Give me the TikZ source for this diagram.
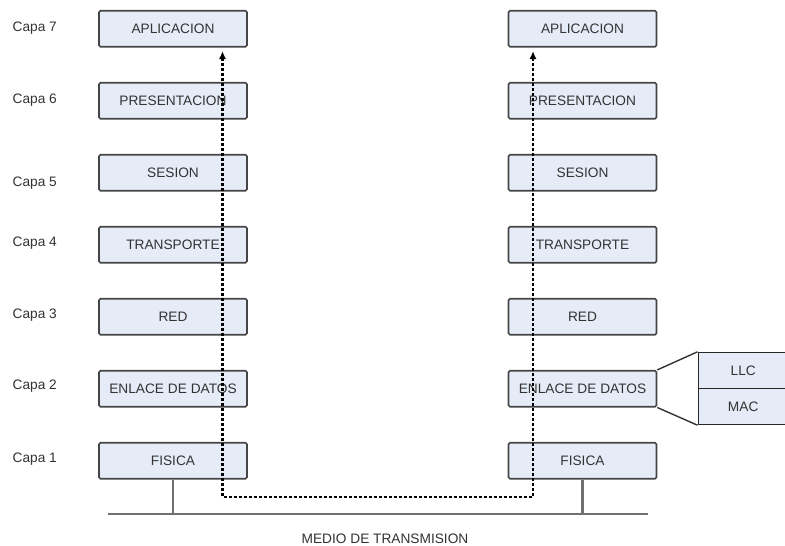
\documentclass[tikz,border=0pt]{standalone}
\usepackage{fontspec}
\setmainfont{Liberation Sans}
\usetikzlibrary{arrows.meta}
\definecolor{boxfill}{HTML}{E6ECF7}
\definecolor{boxline}{HTML}{454545}
\definecolor{txt}{HTML}{333333}
\definecolor{wire}{HTML}{707070}
\tikzset{
  layer/.style={draw=boxline, fill=boxfill, line width=1.6pt, rounded corners=1.5pt,
    minimum width=148pt, minimum height=36pt, inner sep=0pt, text=txt,
    font=\fontsize{13.7}{15}\selectfont},
  sub/.style={draw=black!85, fill=boxfill, line width=1.4pt,
    minimum width=90pt, minimum height=36pt, inner sep=0pt, text=txt, anchor=west,
    font=\fontsize{13.7}{15}\selectfont},
  capa/.style={anchor=west, text=txt, inner sep=0pt, font=\fontsize{13.7}{15}\selectfont},
  wireline/.style={draw=wire, line width=2.2pt},
  flow/.style={draw=black, line width=2.2pt, dash pattern=on 3pt off 2pt,
    {Latex[length=8pt,width=7pt]}-{Latex[length=8pt,width=7pt]}},
  zoomline/.style={draw=black!80, line width=1.4pt}
}
\begin{document}
\begin{tikzpicture}[x=1pt,y=-1pt]
\useasboundingbox (0,0) rectangle (785,546);
\clip (0,0) rectangle (785,546);
\fill[white] (0,0) rectangle (785,546);
% left stack
\node[layer] (l7) at (173,28.7) {APLICACION};
\node[layer] (l6) at (173,100.7) {PRESENTACION};
\node[layer] (l5) at (173,172.7) {SESION};
\node[layer] (l4) at (173,244.7) {TRANSPORTE};
\node[layer] (l3) at (173,316.7) {RED};
\node[layer] (l2) at (173,388.7) {ENLACE DE DATOS};
\node[layer] (l1) at (173,460.7) {FISICA};
% right stack
\node[layer] (r7) at (582.5,28.7) {APLICACION};
\node[layer] (r6) at (582.5,100.7) {PRESENTACION};
\node[layer] (r5) at (582.5,172.7) {SESION};
\node[layer] (r4) at (582.5,244.7) {TRANSPORTE};
\node[layer] (r3) at (582.5,316.7) {RED};
\node[layer] (r2) at (582.5,388.7) {ENLACE DE DATOS};
\node[layer] (r1) at (582.5,460.7) {FISICA};
% labels
\node[capa] (c7) at (12.5,28) {Capa 7};
\node[capa] (c6) at (12.5,100) {Capa 6};
\node[capa] (c5) at (12.5,183) {Capa 5};
\node[capa] (c4) at (12.5,243) {Capa 4};
\node[capa] (c3) at (12.5,315) {Capa 3};
\node[capa] (c2) at (12.5,386) {Capa 2};
\node[capa] (c1) at (12.5,459) {Capa 1};
% LLC / MAC
\node[sub] (llc) at (697.5,370.5) {LLC};
\node[sub] (mac) at (697.5,406.5) {MAC};
\draw[zoomline] (r2.north east) -- (llc.north west);
\draw[zoomline] (r2.south east) -- (mac.south west);
% medium
\coordinate (busL) at (108,514);
\coordinate (busR) at (648,514);
\draw[wireline] (busL) -- (busR);
\draw[wireline] (l1.south) -- (l1.south |- busL);
\draw[wireline] (r1.south) -- (r1.south |- busL);
\node[text=txt, inner sep=0pt, font=\fontsize{13.7}{15}\selectfont] (medio) at (385,538.5) {MEDIO DE TRANSMISION};
% data flow
\coordinate (tipL) at (222.5,51);
\coordinate (botL) at (222.5,497);
\coordinate (botR) at (533,497);
\coordinate (tipR) at (533,51);
\draw[flow] (tipL) -- (botL) -- (botR) -- (tipR);
\end{tikzpicture}
\end{document}
